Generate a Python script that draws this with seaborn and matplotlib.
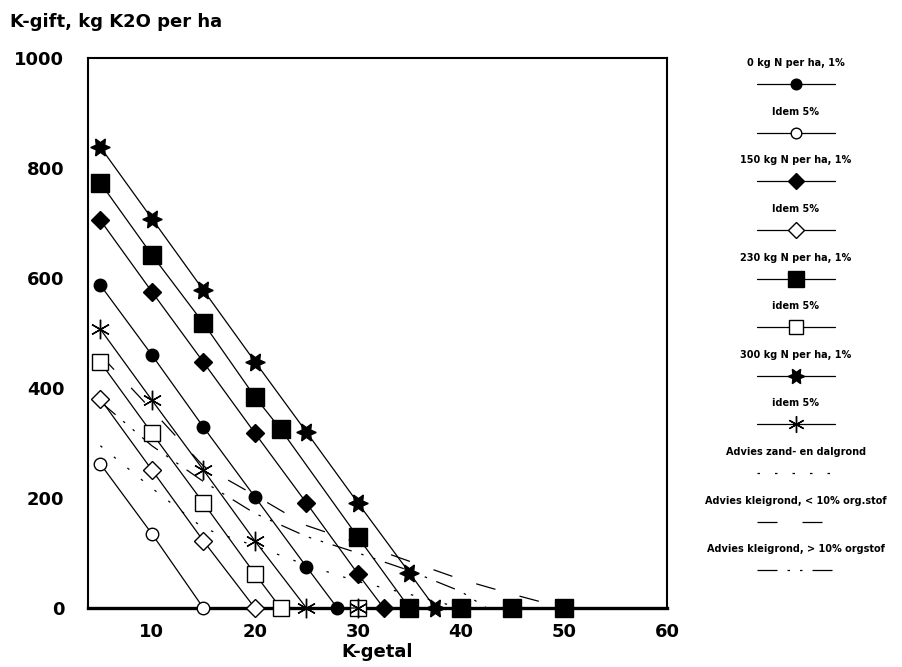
import matplotlib
matplotlib.use("Agg")
import matplotlib.pyplot as plt
import seaborn as sns

sns.set_theme(style="white")
plt.rcParams['font.family'] = ['DejaVu Sans']
plt.rcParams['text.color'] = 'black'
plt.rcParams['axes.labelcolor'] = 'black'
plt.rcParams['xtick.color'] = 'black'
plt.rcParams['ytick.color'] = 'black'

# ---------------- data ----------------
n0_1_x = [5, 10, 15, 20, 25, 28]
n0_1_y = [587, 460, 329, 202, 75, 0]
n0_5_x = [5, 10, 15]
n0_5_y = [262, 135, 0]
n150_1_x = [5, 10, 15, 20, 25, 30, 32.5]
n150_1_y = [705, 575, 447, 318, 191, 62, 0]
n150_5_x = [5, 10, 15, 20]
n150_5_y = [380, 251, 122, 0]
n230_1_x = [5, 10, 15, 20, 22.5, 30, 35, 40, 45, 50]
n230_1_y = [773, 642, 518, 384, 325, 129, 0, 0, 0, 0]
n230_5_x = [5, 10, 15, 20, 22.5, 30]
n230_5_y = [447, 318, 191, 62, 0, 0]
n300_1_x = [5, 10, 15, 20, 25, 30, 35, 37.5]
n300_1_y = [838, 708, 578, 448, 320, 191, 64, 0]
n300_5_x = [5, 10, 15, 20, 25, 30]
n300_5_y = [507, 378, 251, 122, 0, 0]

zand_x = [5, 10, 15, 20, 25, 30, 35, 40, 60]
zand_y = [295, 218, 145, 113, 78, 48, 25, 0, 0]
klei_lo_x = [5, 10, 15, 20, 25, 30, 35, 40, 45, 50, 60]
klei_lo_y = [460, 360, 258, 205, 150, 118, 85, 52, 25, 0, 0]
klei_hi_x = [5, 10, 15, 20, 25, 30, 35, 40, 42.5, 60]
klei_hi_y = [375, 295, 230, 172, 130, 100, 68, 30, 0, 0]

labels = ["0 kg N per ha, 1%", "Idem 5%", "150 kg N per ha, 1%", "Idem 5%",
          "230 kg N per ha, 1%", "idem 5%", "300 kg N per ha, 1%", "idem 5%",
          "Advies zand- en dalgrond", "Advies kleigrond, < 10% org.stof",
          "Advies kleigrond, > 10% orgstof"]
x_ticks = [10, 20, 30, 40, 50, 60]
y_ticks = [0, 200, 400, 600, 800, 1000]

# ---------------- styles ----------------
STAR = (6, 1, 90)
AST = (6, 2, 0)
styles = [
    dict(marker='o', ms=9, mfc='black'),
    dict(marker='o', ms=9, mfc='white'),
    dict(marker='D', ms=9, mfc='black'),
    dict(marker='D', ms=9, mfc='white'),
    dict(marker='s', ms=13, mfc='black'),
    dict(marker='s', ms=12, mfc='white'),
    dict(marker=STAR, ms=14, mfc='black'),
    dict(marker=AST, ms=14, mfc='white'),
]
advice_ls = [(0, (2, 12)), (0, (16, 20)), (0, (16, 8, 2, 8, 2, 8))]

series = [(n0_1_x, n0_1_y), (n0_5_x, n0_5_y), (n150_1_x, n150_1_y), (n150_5_x, n150_5_y),
          (n230_1_x, n230_1_y), (n230_5_x, n230_5_y), (n300_1_x, n300_1_y), (n300_5_x, n300_5_y)]
advice = [(zand_x, zand_y), (klei_lo_x, klei_lo_y), (klei_hi_x, klei_hi_y)]

W, H = 903, 667
fig = plt.figure(figsize=(W / 100, H / 100), dpi=100)
L, R, T, B = 88, 667, 58, 608
ax = fig.add_axes([L / W, 1 - B / H, (R - L) / W, (B - T) / H])
ax.set_facecolor('white')

for (xs, ys), ls in zip(advice, advice_ls):
    sns.lineplot(x=xs, y=ys, ax=ax, color='black', lw=0.9, linestyle=ls,
                 estimator=None, sort=False, legend=False)

for (xs, ys), st in zip(series, styles):
    sns.lineplot(x=xs, y=ys, ax=ax, color='black', lw=0.9, marker=st['marker'],
                 markersize=st['ms'], markerfacecolor=st['mfc'],
                 markeredgecolor='black', markeredgewidth=1.0,
                 estimator=None, sort=False, legend=False, zorder=3, clip_on=False)

ax.set_xlim(3.8, 60)
ax.set_ylim(0, 1000)
ax.set_xticks(x_ticks)
ax.set_xticklabels([str(t) for t in x_ticks])
ax.set_yticks(y_ticks)
ax.set_yticklabels([str(t) for t in y_ticks])
ax.tick_params(axis='both', direction='in', length=8, width=1, color='black',
               labelsize=13, labelcolor='black')
ax.tick_params(axis='y', pad=17)
ax.tick_params(axis='x', pad=11)
for lab in ax.get_xticklabels() + ax.get_yticklabels():
    lab.set_fontweight('bold')
for side, sp in ax.spines.items():
    sp.set_visible(True)
    sp.set_color('black')
    sp.set_linewidth(1.5)
ax.spines['bottom'].set_linewidth(2.4)
ax.set_xlabel("K-getal", fontsize=13, fontweight='bold', labelpad=1, color='black')
ax.set_ylabel("")
ax.grid(False)

fig.text(10 / W, 1 - 22 / H, "K-gift, kg K2O per ha", fontsize=13,
         fontweight='bold', ha='left', va='center', color='black')

# ---------------- legend (right side) ----------------
lax = fig.add_axes([0, 0, 1, 1], facecolor='none')
lax.set_xlim(0, W)
lax.set_ylim(H, 0)
lax.axis('off')
text_y = [63, 112, 160, 209, 258, 306, 355, 403, 452, 501, 549]
cx = 796
for i, (lab, ty) in enumerate(zip(labels, text_y)):
    lax.text(cx, ty, lab, fontsize=7, fontweight='bold', ha='center', va='center',
             color='black')
    hy = ty + 21
    if i < 8:
        st = styles[i]
        lax.plot([757, 835], [hy, hy], color='black', lw=0.9)
        lax.plot([cx], [hy], marker=st['marker'], ms=st['ms'] * 0.85,
                 mfc=st['mfc'], mec='black', mew=1.0, color='black')
    else:
        lax.plot([757, 835], [hy, hy], color='black', lw=0.9,
                 linestyle=advice_ls[i - 8])

fig.savefig("out.png", dpi=100, facecolor='white')
